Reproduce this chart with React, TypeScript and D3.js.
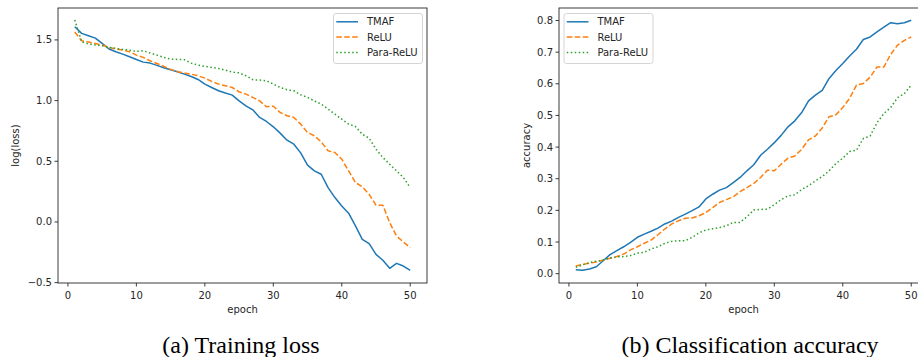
import React from "react";
import * as d3 from "d3";

const epochs = d3.range(1, 51);

const lossTMAF = [
  1.609, 1.554, 1.535, 1.515, 1.471, 1.425, 1.403, 1.383, 1.361, 1.339,
  1.317, 1.309, 1.29, 1.271, 1.254, 1.238, 1.218, 1.199, 1.174, 1.136,
  1.108, 1.081, 1.062, 1.045, 0.998, 0.957, 0.924, 0.861, 0.828, 0.784,
  0.732, 0.674, 0.641, 0.569, 0.468, 0.421, 0.393, 0.283, 0.201, 0.132,
  0.072, -0.033, -0.143, -0.179, -0.267, -0.316, -0.382, -0.341, -0.363, -0.399,
];
const lossReLU = [
  1.565, 1.493, 1.482, 1.471, 1.458, 1.438, 1.425, 1.416, 1.403, 1.375,
  1.356, 1.328, 1.306, 1.282, 1.257, 1.238, 1.227, 1.218, 1.205, 1.185,
  1.158, 1.136, 1.122, 1.108, 1.073, 1.053, 1.026, 0.998, 0.949, 0.954,
  0.902, 0.875, 0.861, 0.806, 0.737, 0.71, 0.66, 0.586, 0.572, 0.517,
  0.421, 0.325, 0.289, 0.228, 0.138, 0.138, -0.006, -0.116, -0.165, -0.212,
];
const lossParaReLU = [
  1.664, 1.485, 1.466, 1.458, 1.452, 1.438, 1.43, 1.422, 1.416, 1.405,
  1.411, 1.392, 1.375, 1.356, 1.342, 1.339, 1.337, 1.309, 1.293, 1.282,
  1.273, 1.265, 1.251, 1.235, 1.229, 1.205, 1.172, 1.169, 1.163, 1.136,
  1.108, 1.089, 1.081, 1.048, 1.026, 0.998, 0.971, 0.93, 0.888, 0.847,
  0.806, 0.787, 0.723, 0.69, 0.6, 0.531, 0.476, 0.421, 0.366, 0.283,
];

const accTMAF = [
  0.012, 0.011, 0.015, 0.022, 0.041, 0.06, 0.073, 0.085, 0.099, 0.115,
  0.125, 0.134, 0.144, 0.157, 0.166, 0.178, 0.188, 0.199, 0.211, 0.236,
  0.251, 0.264, 0.272, 0.288, 0.304, 0.325, 0.344, 0.374, 0.393, 0.414,
  0.437, 0.464, 0.483, 0.509, 0.546, 0.564, 0.579, 0.617, 0.642, 0.664,
  0.688, 0.709, 0.74, 0.748, 0.764, 0.779, 0.793, 0.79, 0.793, 0.801,
];
const accReLU = [
  0.024, 0.029, 0.033, 0.037, 0.043, 0.049, 0.054, 0.062, 0.075, 0.085,
  0.096, 0.106, 0.123, 0.141, 0.157, 0.167, 0.175, 0.176, 0.183, 0.193,
  0.209, 0.225, 0.234, 0.243, 0.259, 0.272, 0.285, 0.304, 0.327, 0.325,
  0.346, 0.365, 0.372, 0.393, 0.423, 0.435, 0.46, 0.496, 0.502, 0.525,
  0.554, 0.596, 0.601, 0.621, 0.653, 0.653, 0.693, 0.722, 0.737, 0.748,
];
const accParaReLU = [
  0.02, 0.028, 0.035, 0.039, 0.043, 0.049, 0.053, 0.054, 0.057, 0.065,
  0.067, 0.078, 0.085, 0.096, 0.102, 0.104, 0.104, 0.115, 0.129, 0.138,
  0.142, 0.146, 0.151, 0.162, 0.162, 0.18, 0.201, 0.203, 0.204, 0.218,
  0.234, 0.246, 0.249, 0.266, 0.278, 0.293, 0.307, 0.325, 0.348, 0.365,
  0.386, 0.39, 0.427, 0.435, 0.477, 0.506, 0.525, 0.556, 0.569, 0.596,
];

const seriesNames = ["TMAF", "ReLU", "Para-ReLU"];
const seriesColors = ["#1f77b4", "#ff7f0e", "#2ca02c"];
const seriesDash = [undefined, "5.55,2.4", "1.5,2.475"];

const xTicks = [0, 10, 20, 30, 40, 50];
const lossTicks = [-0.5, 0, 0.5, 1.0, 1.5];
const accTicks = [0, 0.1, 0.2, 0.3, 0.4, 0.5, 0.6, 0.7, 0.8];

const FONT = "'DejaVu Sans', sans-serif";
const SERIF = "'Liberation Serif', 'Times New Roman', Times, serif";
const INK = "#262626";

interface PanelProps {
  left: number;
  right: number;
  yDomain: [number, number];
  yTicks: number[];
  yFmt: (v: number) => string;
  yLabel: string;
  yLabelX: number;
  series: number[][];
  legendX: number;
  caption: string;
  captionX: number;
}

function Panel(p: PanelProps) {
  const top = 8;
  const bottom = 283;
  const x = d3.scaleLinear().domain([-1.45, 52.45]).range([p.left, p.right]);
  const y = d3.scaleLinear().domain(p.yDomain).range([bottom, top]);
  const line = d3
    .line<number>()
    .x((_, i) => x(epochs[i]))
    .y((d) => y(d));
  const clipId = `clip-${p.left}`;
  const mid = (p.left + p.right) / 2;

  return (
    <g>
      <defs>
        <clipPath id={clipId}>
          <rect x={p.left} y={top} width={p.right - p.left} height={bottom - top} />
        </clipPath>
      </defs>
      <g clipPath={`url(#${clipId})`}>
        {p.series.map((s, i) => (
          <path
            key={i}
            d={line(s) || ""}
            fill="none"
            stroke={seriesColors[i]}
            strokeWidth={1.5}
            strokeDasharray={seriesDash[i]}
            strokeLinejoin="round"
          />
        ))}
      </g>
      <rect
        x={p.left}
        y={top}
        width={p.right - p.left}
        height={bottom - top}
        fill="none"
        stroke={INK}
        strokeWidth={0.9}
      />
      {xTicks.map((t) => (
        <g key={t} transform={`translate(${x(t)},${bottom})`}>
          <line y2={3.5} stroke={INK} strokeWidth={0.9} />
          <text y={15.5} textAnchor="middle" fontSize={10} fontFamily={FONT} fill={INK}>
            {t}
          </text>
        </g>
      ))}
      {p.yTicks.map((t) => (
        <g key={t} transform={`translate(${p.left},${y(t)})`}>
          <line x2={-3.5} stroke={INK} strokeWidth={0.9} />
          <text x={-6} dy="0.35em" textAnchor="end" fontSize={10} fontFamily={FONT} fill={INK}>
            {p.yFmt(t)}
          </text>
        </g>
      ))}
      <text x={mid} y={313} textAnchor="middle" fontSize={10} fontFamily={FONT} fill={INK}>
        epoch
      </text>
      <text
        transform={`translate(${p.yLabelX},${(top + bottom) / 2}) rotate(-90)`}
        textAnchor="middle"
        dy="0.35em"
        fontSize={10}
        fontFamily={FONT}
        fill={INK}
      >
        {p.yLabel}
      </text>
      <g transform={`translate(${p.legendX},13.5)`}>
        <rect
          width={89}
          height={50}
          rx={2.5}
          fill="white"
          fillOpacity={0.8}
          stroke="#d0d0d0"
          strokeWidth={0.9}
        />
        {seriesNames.map((name, i) => (
          <g key={name} transform={`translate(0,${8.3 + i * 15.3})`}>
            <line
              x1={2.8}
              x2={24.5}
              stroke={seriesColors[i]}
              strokeWidth={1.5}
              strokeDasharray={seriesDash[i]}
            />
            <text x={33.4} dy="0.35em" fontSize={10} fontFamily={FONT} fill={INK}>
              {name}
            </text>
          </g>
        ))}
      </g>
      <text
        x={p.captionX}
        y={352.5}
        textAnchor="middle"
        fontSize={24}
        fontFamily={SERIF}
        fill="#000"
      >
        {p.caption}
      </text>
    </g>
  );
}

export default function App() {
  const f1 = (v: number) => d3.format(".1f")(v).replace("-", "\u2212");
  return (
    <svg
      width={918}
      height={357}
      style={{ position: "absolute", left: 0, top: 0, background: "white" }}
    >
      <Panel
        left={58}
        right={427}
        yDomain={[-0.503, 1.763]}
        yTicks={lossTicks}
        yFmt={f1}
        yLabel="log(loss)"
        yLabelX={15.5}
        series={[lossTMAF, lossReLU, lossParaReLU]}
        legendX={333.5}
        caption="(a) Training loss"
        captionX={241}
      />
      <Panel
        left={559}
        right={928}
        yDomain={[-0.0295, 0.8395]}
        yTicks={accTicks}
        yFmt={f1}
        yLabel="accuracy"
        yLabelX={526.5}
        series={[accTMAF, accReLU, accParaReLU]}
        legendX={564}
        caption="(b) Classification accuracy"
        captionX={750}
      />
    </svg>
  );
}
